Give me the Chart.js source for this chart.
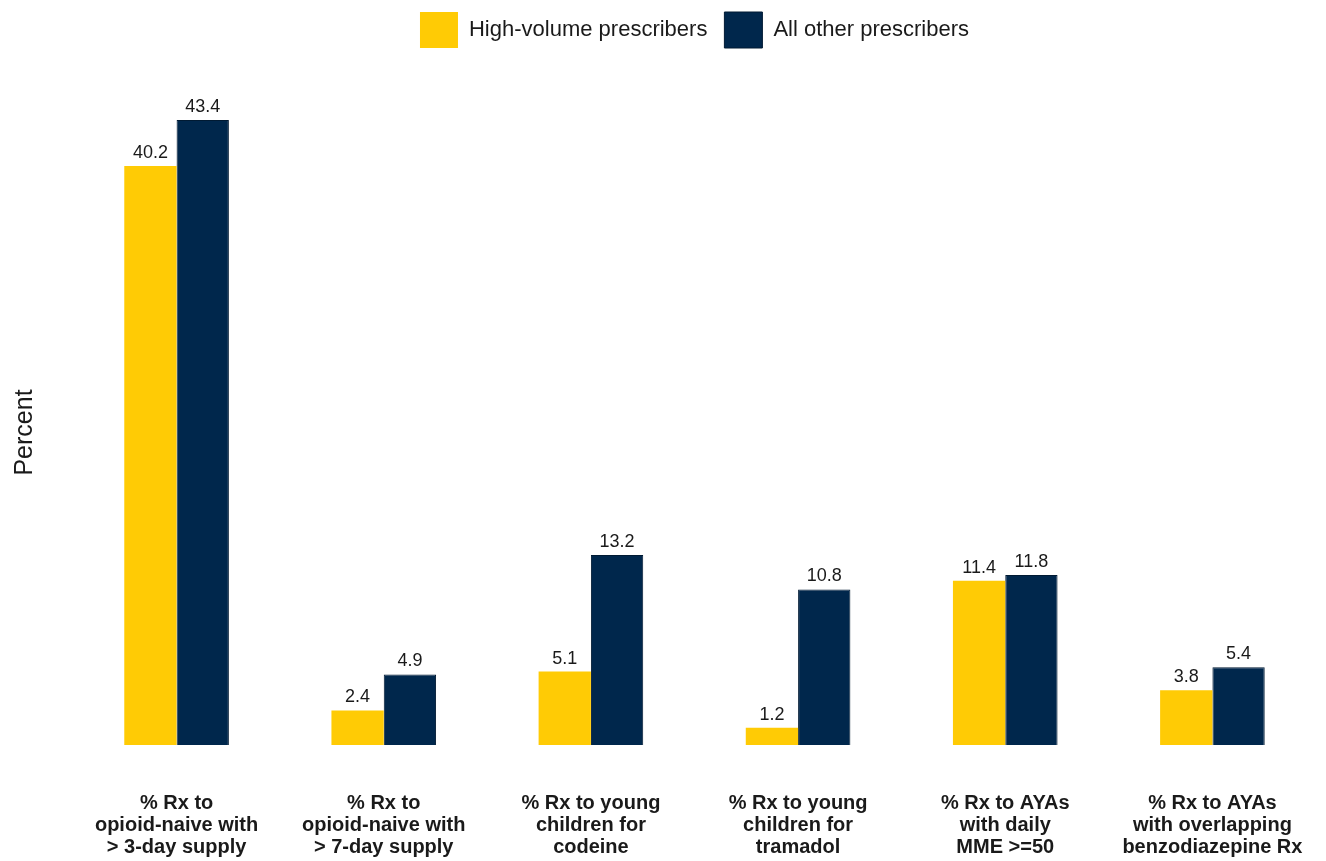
<!DOCTYPE html>
<html>
<head>
<meta charset="utf-8">
<script src="https://cdn.jsdelivr.net/npm/chart.js@4/dist/chart.umd.min.js"></script>
<style>
  html, body { margin: 0; padding: 0; background: #fff; }
  #wrap { width: 1326px; height: 861px; }
</style>
</head>
<body>
<div id="wrap"><canvas id="myChart"></canvas></div>
<script>
// Opioid prescribing measures, high-volume vs. all other prescribers
const categories = [
    ['% Rx to', 'opioid-naive with', '> 3-day supply'],
    ['% Rx to', 'opioid-naive with', '> 7-day supply'],
    ['% Rx to young', 'children for', 'codeine'],
    ['% Rx to young', 'children for', 'tramadol'],
    ['% Rx to AYAs', 'with daily', 'MME >=50'],
    ['% Rx to AYAs', 'with overlapping', 'benzodiazepine Rx']
];
const highVolume = [40.2, 2.4, 5.1, 1.2, 11.4, 3.8];
const allOther = [43.4, 4.9, 13.2, 10.8, 11.8, 5.4];

const FONT = 'Arial, "Liberation Sans", sans-serif';
const TEXT = '#1a1a1a';

// Value labels over each bar
const barValues = {
    id: 'barValues',
    afterDatasetsDraw(chart) {
        const ctx = chart.ctx;
        ctx.save();
        ctx.font = '18px ' + FONT;
        ctx.fillStyle = TEXT;
        ctx.textAlign = 'center';
        ctx.textBaseline = 'bottom';
        chart.data.datasets.forEach((ds, i) => {
            chart.getDatasetMeta(i).data.forEach((bar, j) => {
                ctx.fillText(ds.data[j].toFixed(1), bar.x, bar.y - 4);
            });
        });
        ctx.restore();
    }
};

// Leave room under the legend and center it over the plot area
const legendSpace = {
    id: 'legendSpace',
    beforeInit(chart) {
        const fit = chart.legend.fit;
        chart.legend.fit = function () {
            fit.bind(chart.legend)();
            this.height = 120;
        };
    },
    afterLayout(chart) {
        const legend = chart.legend;
        legend.left = chart.chartArea.left;
        legend.right = chart.chartArea.right;
        legend.top = -5;
    }
};

const ctx = document.getElementById('myChart').getContext('2d');
new Chart(ctx, {
    type: 'bar',
    data: {
        labels: categories,
        datasets: [
            {
                label: 'High-volume prescribers',
                data: highVolume,
                backgroundColor: '#FFCB05',
                borderWidth: 0
            },
            {
                label: 'All other prescribers',
                data: allOther,
                backgroundColor: '#00274C',
                borderColor: '#001a33',
                borderWidth: 1
            }
        ]
    },
    options: {
        responsive: true,
        maintainAspectRatio: false,
        animation: false,
        devicePixelRatio: 1,
        layout: { padding: { top: 0, right: 10, bottom: 0, left: 0 } },
        datasets: {
            bar: { categoryPercentage: 0.505, barPercentage: 1 }
        },
        plugins: {
            legend: {
                position: 'top',
                labels: {
                    color: TEXT,
                    font: { family: FONT, size: 22 },
                    boxWidth: 38,
                    boxHeight: 36,
                    padding: 17
                }
            },
            tooltip: { enabled: false }
        },
        scales: {
            x: {
                grid: { display: false, drawTicks: false },
                border: { display: false },
                ticks: {
                    color: TEXT,
                    padding: 47,
                    maxRotation: 0,
                    autoSkip: false,
                    font: { family: FONT, size: 20, weight: 'bold', lineHeight: 1.1 }
                },
                afterFit(scale) {
                    scale.height = 116;
                    scale.paddingLeft = 0;
                    scale.paddingRight = 0;
                }
            },
            y: {
                min: 0,
                max: 43.4,
                grid: { display: false, drawTicks: false },
                border: { display: false },
                ticks: { display: false },
                title: {
                    display: true,
                    text: 'Percent',
                    color: TEXT,
                    padding: { top: 10, bottom: 0 },
                    font: { family: FONT, size: 25 }
                },
                afterFit(scale) { scale.width = 73; }
            }
        }
    },
    plugins: [barValues, legendSpace]
});
</script>
</body>
</html>
